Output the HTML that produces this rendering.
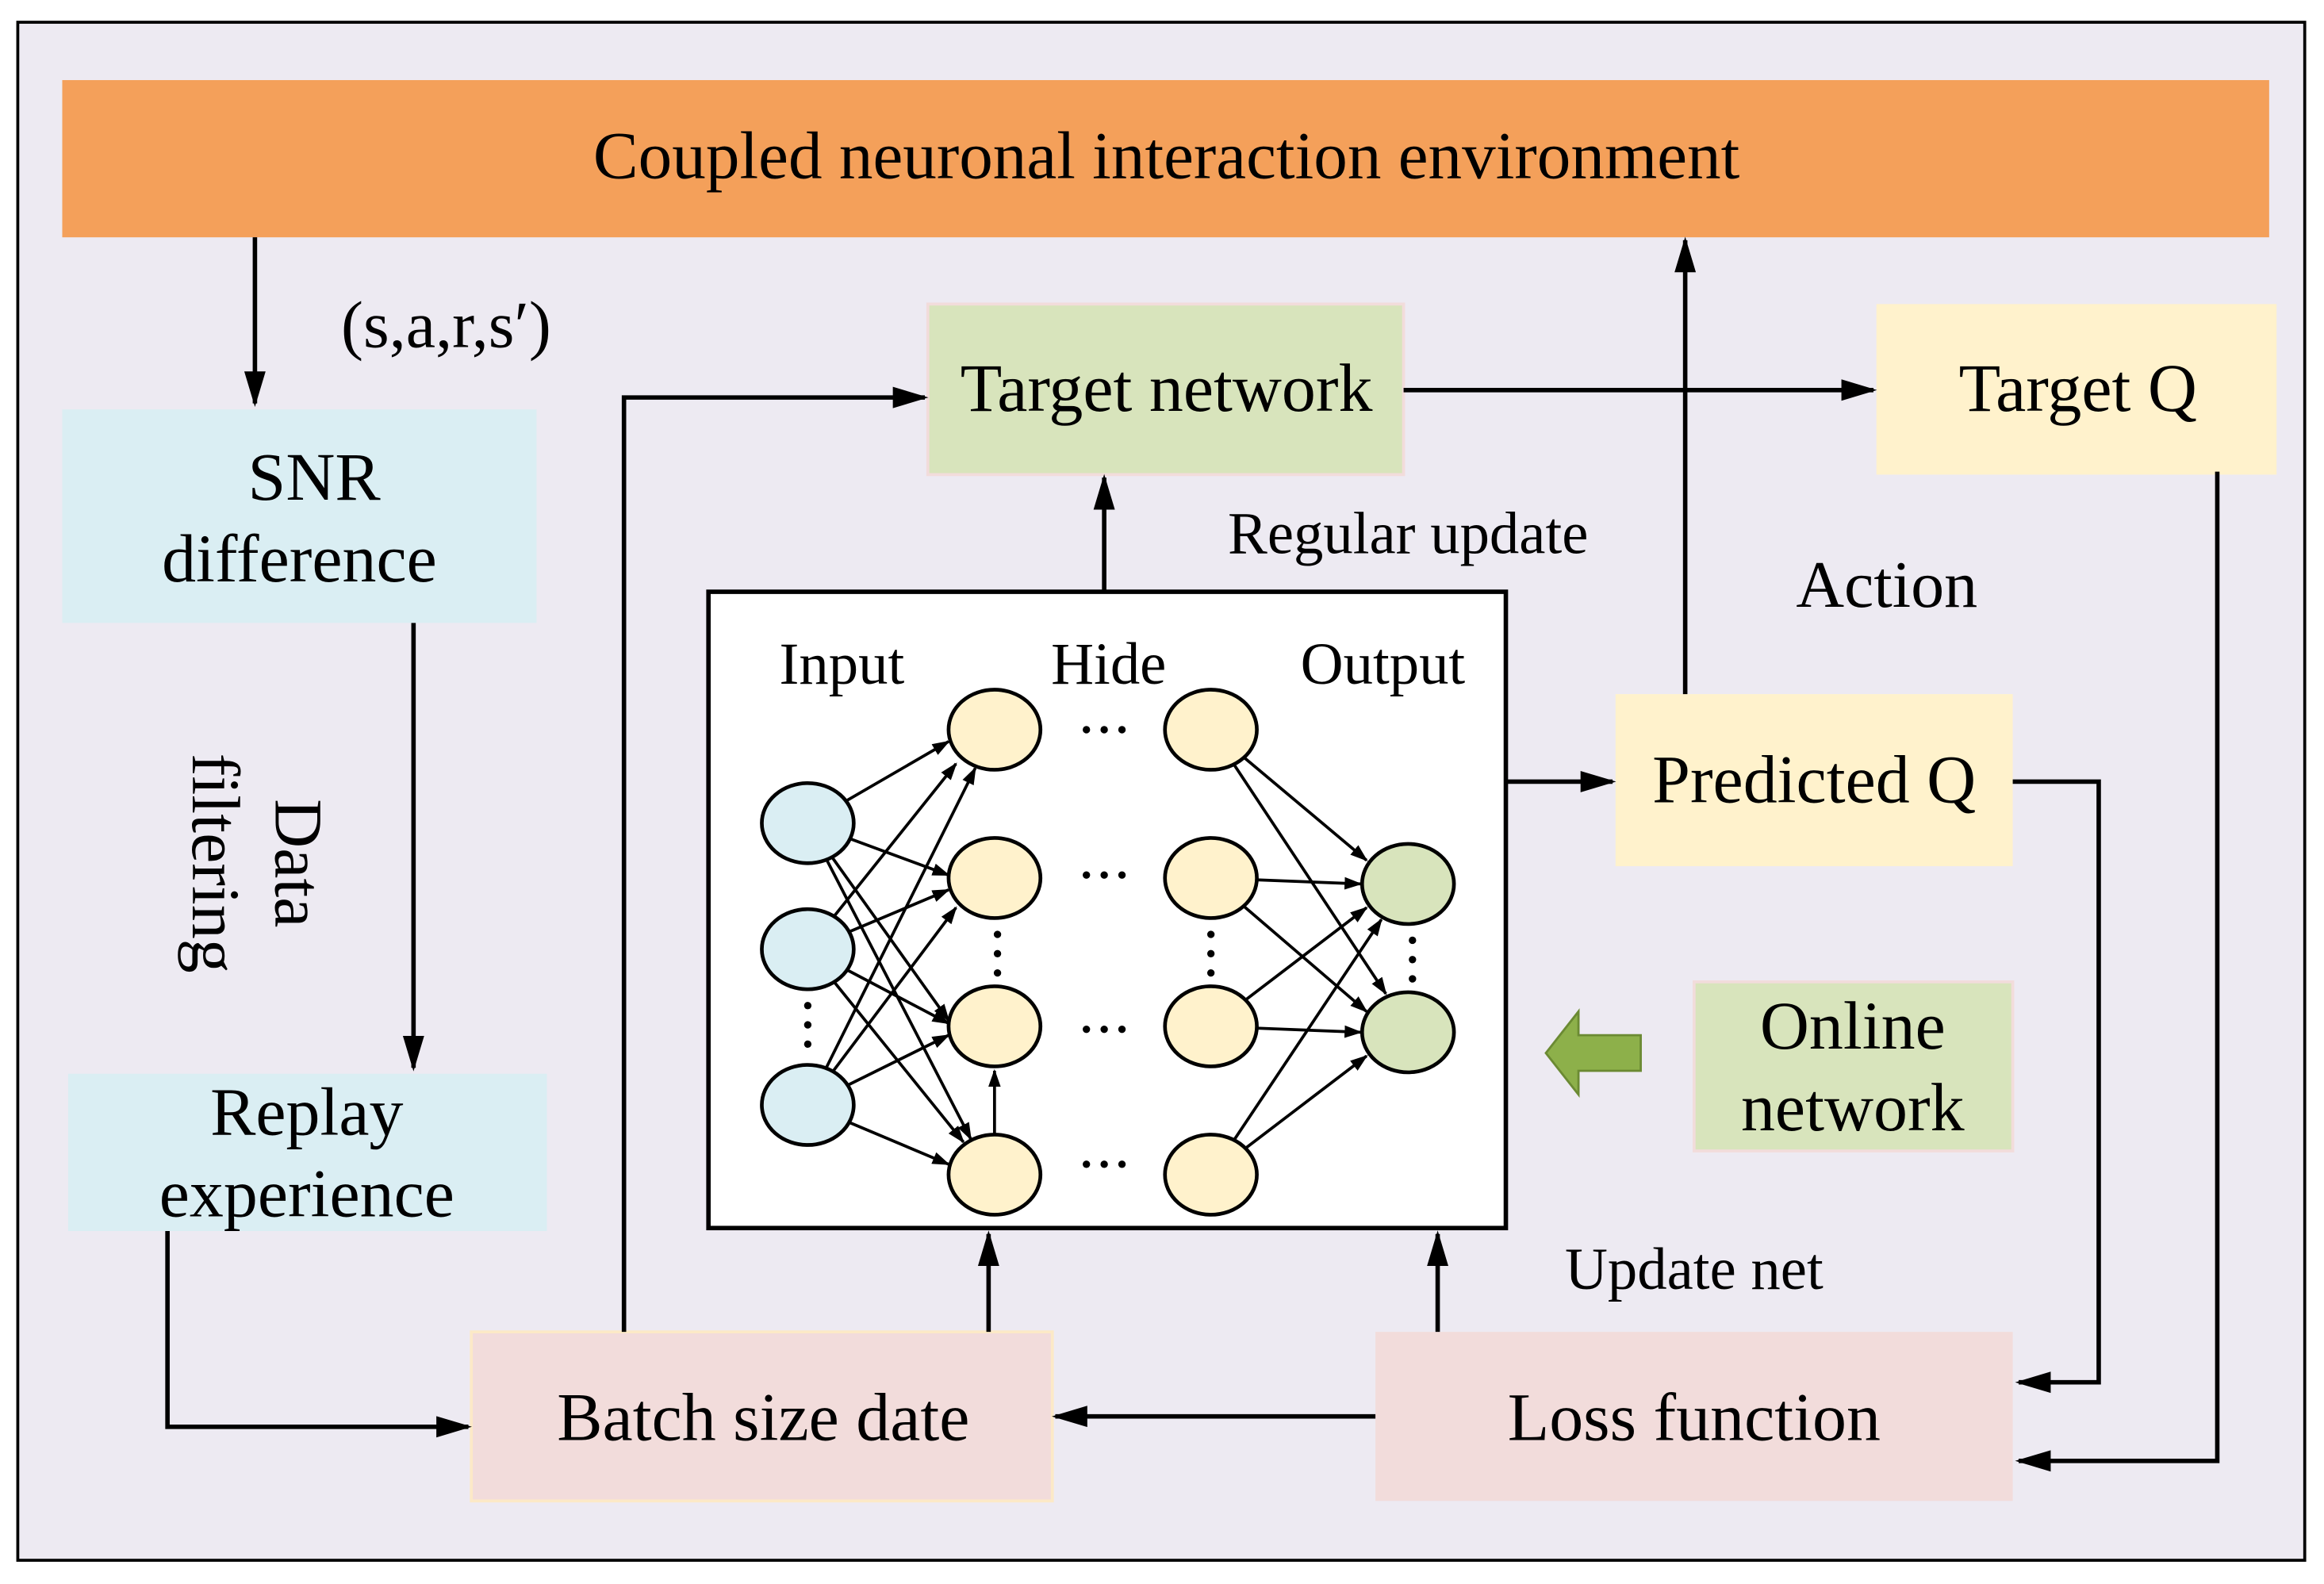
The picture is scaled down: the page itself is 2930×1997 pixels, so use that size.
<!DOCTYPE html>
<html><head><meta charset="utf-8"><style>html,body{margin:0;padding:0;background:#fff}svg{display:block}</style></head><body>
<svg width="2930" height="1997" viewBox="0 0 1568 1068" preserveAspectRatio="none" xmlns="http://www.w3.org/2000/svg" font-family="Liberation Serif, serif">
<defs><marker id="a" viewBox="0 0 10 10" refX="9" refY="5" markerWidth="6" markerHeight="6" orient="auto-start-reverse"><path d="M0,1.5 L10,5 L0,8.5 z" fill="#000"/></marker>
<marker id="s" viewBox="0 0 10 10" refX="9" refY="5" markerWidth="8" markerHeight="8" orient="auto"><path d="M0,2 L10,5 L0,8 z" fill="#000"/></marker></defs>
<rect x="0" y="0" width="1568" height="1068" fill="#fff"/>
<rect x="12" y="15" width="1543" height="1037" fill="#edeaf2" stroke="#000" stroke-width="2"/>
<rect x="42" y="54" width="1489" height="106" fill="#f4a05a"/>
<text x="787" y="120" font-size="45.6" text-anchor="middle">Coupled neuronal interaction environment</text>
<g font-size="46" text-anchor="middle">
<rect x="42" y="276" width="320" height="144" fill="#daeef3"/>
<text x="212" y="337">SNR</text><text x="202" y="392">difference</text>
<rect x="46" y="724" width="323" height="106" fill="#daeef3"/>
<text x="207" y="765">Replay</text><text x="207" y="820">experience</text>
<rect x="318" y="898" width="392" height="114" fill="#f2dcdb" stroke="#fce9c7" stroke-width="2"/>
<text x="515" y="971">Batch size date</text>
<rect x="928" y="898" width="430" height="114" fill="#f2dcdb"/>
<text x="1143" y="971">Loss function</text>
<rect x="626" y="205" width="321" height="115" fill="#d8e4bc" stroke="#f2dcdb" stroke-width="2"/>
<text x="787" y="277">Target network</text>
<rect x="1266" y="205" width="270" height="115" fill="#fff2cc"/>
<text x="1402" y="277">Target Q</text>
<rect x="1090" y="468" width="268" height="116" fill="#fff2cc"/>
<text x="1224" y="541">Predicted Q</text>
<rect x="1143" y="662" width="215" height="114" fill="#d8e4bc" stroke="#f2dcdb" stroke-width="2"/>
<text x="1250" y="707">Online</text><text x="1250" y="762">network</text>
<text x="1273" y="409" font-size="45">Action</text>
<text x="301" y="234" font-size="45">(s,a,r,s′)</text>
<text transform="translate(186,582) rotate(90)" font-size="46">Data</text>
<text transform="translate(130,582) rotate(90)" font-size="46">filtering</text>
</g>
<g font-size="40" text-anchor="middle">
<text x="950" y="373">Regular update</text>
<text x="1143" y="869">Update net</text>
</g>
<g stroke="#000" stroke-width="3" fill="none" marker-end="url(#s)">
<path d="M172,160 V272"/>
<path d="M279,420 V720"/>
<path d="M113,830 V962 H316"/>
<path d="M928,955 H712"/>
<path d="M421,898 V268 H624"/>
<path d="M947,263 H1264"/>
<path d="M1496,318 V985 H1362"/>
<path d="M745,399 V322"/>
<path d="M1016,527 H1088"/>
<path d="M1137,468 V162"/>
<path d="M1358,527 H1416 V932 H1362"/>
<path d="M667,898 V832"/>
<path d="M970,898 V832"/>
</g>
<path d="M1043,710 L1065,682 V698 H1107 V722 H1065 V738 z" fill="#8db04a" stroke="#6b8a33" stroke-width="1.5"/>
<rect x="478" y="399" width="538" height="429" fill="#fff" stroke="#000" stroke-width="3"/>
<g font-size="40" text-anchor="middle"><text x="568" y="461">Input</text><text x="748" y="461">Hide</text><text x="933" y="461">Output</text></g>
<g stroke="#000" stroke-width="2" marker-end="url(#a)">
<line x1="545" y1="555" x2="640" y2="500"/><line x1="545" y1="555" x2="640" y2="590"/><line x1="545" y1="555" x2="640" y2="688"/><line x1="545" y1="555" x2="655" y2="768"/>
<line x1="545" y1="640" x2="645" y2="515"/><line x1="545" y1="640" x2="640" y2="600"/><line x1="545" y1="640" x2="640" y2="690"/><line x1="545" y1="640" x2="650" y2="770"/>
<line x1="545" y1="745" x2="658" y2="518"/><line x1="545" y1="745" x2="645" y2="612"/><line x1="545" y1="745" x2="640" y2="698"/><line x1="545" y1="745" x2="640" y2="785"/>
<line x1="671" y1="765" x2="671" y2="722"/>
<line x1="817" y1="492" x2="922" y2="580"/><line x1="817" y1="492" x2="935" y2="670"/>
<line x1="817" y1="592" x2="918" y2="596"/><line x1="817" y1="592" x2="922" y2="682"/>
<line x1="817" y1="692" x2="922" y2="612"/><line x1="817" y1="692" x2="918" y2="696"/>
<line x1="817" y1="792" x2="932" y2="620"/><line x1="817" y1="792" x2="922" y2="712"/>
</g>
<g stroke="#000" stroke-width="2.5">
<ellipse cx="545" cy="555" rx="31" ry="27" fill="#daeef3"/><ellipse cx="545" cy="640" rx="31" ry="27" fill="#daeef3"/><ellipse cx="545" cy="745" rx="31" ry="27" fill="#daeef3"/>
<ellipse cx="671" cy="492" rx="31" ry="27" fill="#fff2cc"/><ellipse cx="671" cy="592" rx="31" ry="27" fill="#fff2cc"/><ellipse cx="671" cy="692" rx="31" ry="27" fill="#fff2cc"/><ellipse cx="671" cy="792" rx="31" ry="27" fill="#fff2cc"/>
<ellipse cx="817" cy="492" rx="31" ry="27" fill="#fff2cc"/><ellipse cx="817" cy="592" rx="31" ry="27" fill="#fff2cc"/><ellipse cx="817" cy="692" rx="31" ry="27" fill="#fff2cc"/><ellipse cx="817" cy="792" rx="31" ry="27" fill="#fff2cc"/>
<ellipse cx="950" cy="596" rx="31" ry="27" fill="#d8e4bc"/><ellipse cx="950" cy="696" rx="31" ry="27" fill="#d8e4bc"/>
</g>
<g fill="#000">
<circle cx="733" cy="492" r="2.5"/><circle cx="745" cy="492" r="2.5"/><circle cx="757" cy="492" r="2.5"/>
<circle cx="733" cy="590" r="2.5"/><circle cx="745" cy="590" r="2.5"/><circle cx="757" cy="590" r="2.5"/>
<circle cx="733" cy="694" r="2.5"/><circle cx="745" cy="694" r="2.5"/><circle cx="757" cy="694" r="2.5"/>
<circle cx="733" cy="785" r="2.5"/><circle cx="745" cy="785" r="2.5"/><circle cx="757" cy="785" r="2.5"/>
<circle cx="545" cy="678" r="2.5"/><circle cx="545" cy="691" r="2.5"/><circle cx="545" cy="704" r="2.5"/>
<circle cx="673" cy="630" r="2.5"/><circle cx="673" cy="643" r="2.5"/><circle cx="673" cy="656" r="2.5"/>
<circle cx="817" cy="630" r="2.5"/><circle cx="817" cy="643" r="2.5"/><circle cx="817" cy="656" r="2.5"/>
<circle cx="953" cy="634" r="2.5"/><circle cx="953" cy="647" r="2.5"/><circle cx="953" cy="660" r="2.5"/>
</g>
</svg>
</body></html>
